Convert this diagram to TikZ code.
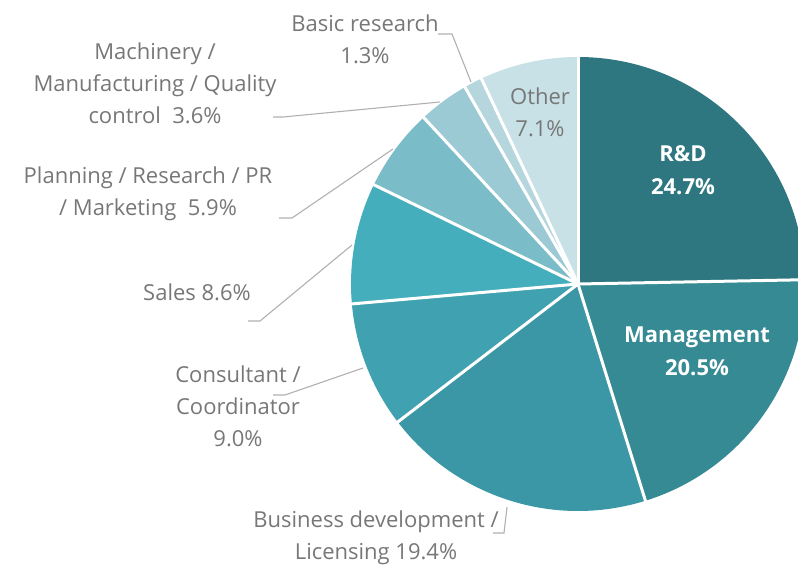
\documentclass[tikz,border=0pt]{standalone}
\usepackage{fontspec}
\setmainfont{Open Sans}
\usepackage{tikz}
\usetikzlibrary{calc}
\definecolor{rdcol}{HTML}{2E7780}
\definecolor{mgmtcol}{HTML}{368A94}
\definecolor{bizcol}{HTML}{3B97A5}
\definecolor{conscol}{HTML}{40A1B0}
\definecolor{salescol}{HTML}{45AEBD}
\definecolor{plancol}{HTML}{7ABCC7}
\definecolor{machcol}{HTML}{9CCAD4}
\definecolor{basiccol}{HTML}{B4D6DC}
\definecolor{othercol}{HTML}{C8E1E6}
\definecolor{labgray}{HTML}{777777}
\definecolor{leadgray}{HTML}{B0B0B0}
\newcommand{\pieslice}[3]{
	\fill[#3] (ctr)--++(#1:227) arc (#1:#2:227)--cycle;
}
\newcommand{\piecut}[1]{
	\draw[white,line width=3pt] (ctr)--++(#1:230);
}

\begin{document}
\begin{tikzpicture}[x=1pt,y=1pt,
	lbl/.style={text=labgray,align=center,inner sep=0pt,font=\fontsize{22}{32}\selectfont},
	inlbl/.style={text=white,align=center,inner sep=0pt,font=\fontsize{22}{33}\selectfont\bfseries},
	leader/.style={draw=leadgray,line width=1.1pt}]
\useasboundingbox (0,0) rectangle (798,566);
\clip (0,0) rectangle (798,566);
\coordinate (ctr) at (578,282);

\pieslice{90}{1.08}{rdcol}
\pieslice{1.08}{-72.72}{mgmtcol}
\pieslice{-72.72}{-142.56}{bizcol}
\pieslice{-142.56}{-174.96}{conscol}
\pieslice{-174.96}{-205.92}{salescol}
\pieslice{-205.92}{-227.16}{plancol}
\pieslice{-227.16}{-240.12}{machcol}
\pieslice{-240.12}{-244.8}{basiccol}
\pieslice{-244.8}{-270}{othercol}
\foreach \a in {90,1.08,-72.72,-142.56,-174.96,-205.92,-227.16,-240.12,-244.8}{
	\piecut{\a}
}

\node[inlbl] (rd) at (683,396) {R\&D\\24.7\%};
\node[inlbl] (mgmt) at (697,215) {Management\\20.5\%};
\node[lbl] (other) at (540,454) {Other\\7.1\%};
\node[lbl] (basic) at (365,527) {Basic research\\1.3\%};
\node[lbl] (mach) at (155,483) {Machinery /\\Manufacturing / Quality\\control~~3.6\%};
\node[lbl] (plan) at (148,372) {Planning / Research / PR\\/ Marketing~~5.9\%};
\node[lbl] (sales) at (197,274) {Sales 8.6\%};
\node[lbl] (cons) at (238,160) {Consultant /\\Coordinator\\9.0\%};
\node[lbl] (biz) at (376,28) {Business development /\\Licensing 19.4\%};

\coordinate (basic-l) at (438,532);
\coordinate (basic-p) at (471,484);
\coordinate (mach-l) at (273,449);
\coordinate (mach-p) at (440,464);
\coordinate (plan-l) at (279,348);
\coordinate (plan-p) at (393,417);
\coordinate (sales-l) at (248,245);
\coordinate (sales-p) at (352,321);
\coordinate (cons-l) at (273,171);
\coordinate (cons-p) at (363,198);
\coordinate (biz-l) at (493,33);
\coordinate (biz-p) at (507,59);

\draw[leader] (basic-l)--++(14,0)--(basic-p);
\draw[leader] (mach-l)--++(10,0)--(mach-p);
\draw[leader] (plan-l)--++(13,0)--(plan-p);
\draw[leader] (sales-l)--++(12,0)--(sales-p);
\draw[leader] (cons-l)--++(12,0)--(cons-p);
\draw[leader] (biz-l)--++(11,0)--(biz-p);

\end{tikzpicture}
\end{document}
